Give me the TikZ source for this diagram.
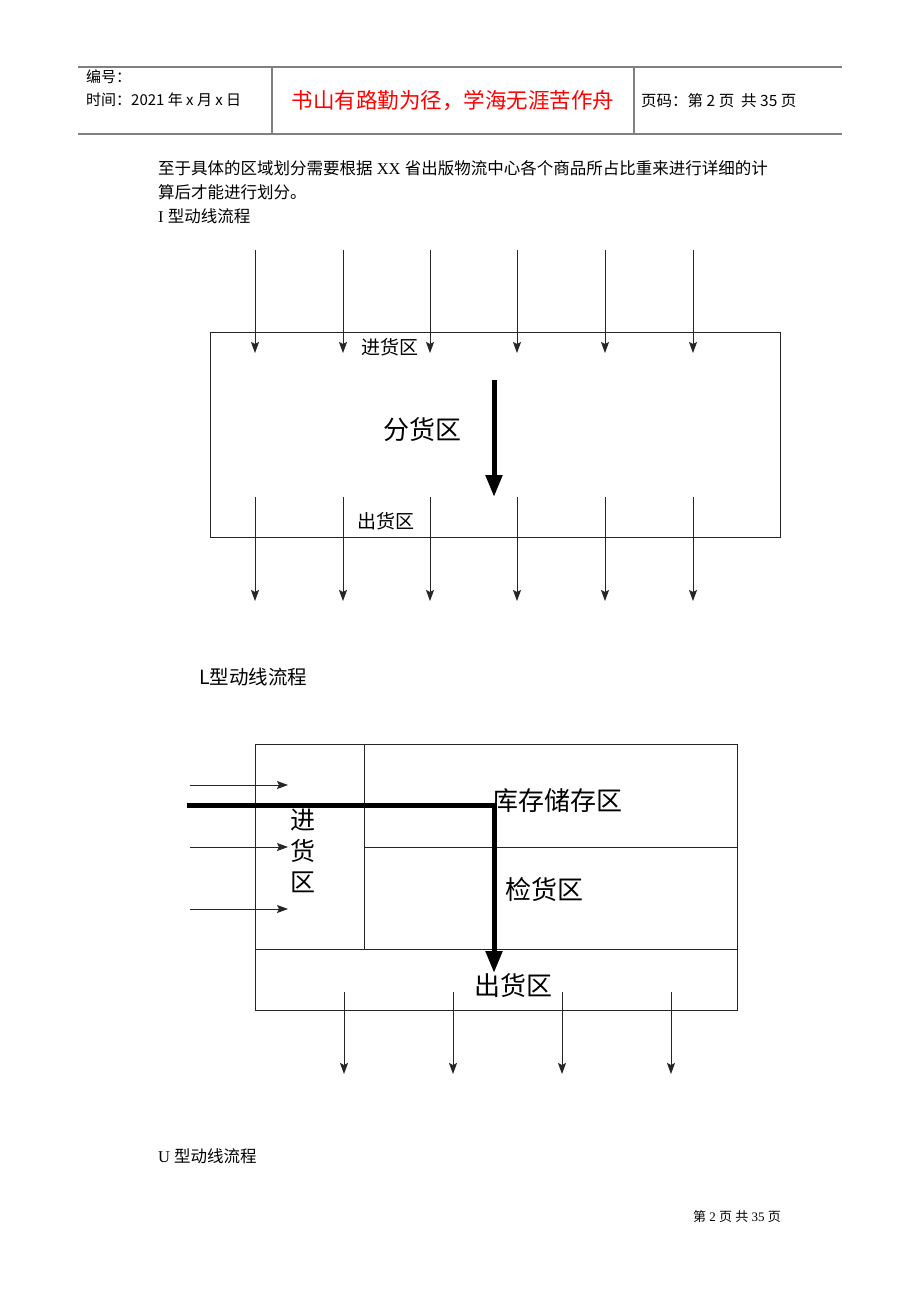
\documentclass[tikz,border=0pt]{standalone}
\usepackage{fontspec}
\setmainfont{Liberation Serif}
\newfontfamily\cjk{Noto Sans CJK SC}
\usetikzlibrary{arrows.meta}

\tikzset{
  hdrline/.style={draw=gray, line width=1.2pt},
  boxline/.style={draw=black!85, line width=0.9pt},
  thinflow/.style={draw=black!85, line width=0.8pt, -{Stealth[length=11pt,width=8pt,inset=2pt]}},
  mainflow/.style={draw=black, line width=5pt, -{Triangle[length=22pt,width=16pt]}},
  txt/.style={inner sep=0pt, anchor=west},
}

\begin{document}
\begin{tikzpicture}[x=1pt, y=-1pt]
		\useasboundingbox (0,0) rectangle (920,1302);
        % header table
        \draw[hdrline] (78,67) -- (842,67);
        \draw[hdrline] (78,134) -- (842,134);
        \draw[hdrline] (272,67) -- (272,134);
        \draw[hdrline] (634,67) -- (634,134);
        \node[txt, font=\cjk\fontsize{15}{18}\selectfont] (num) at (86,77) {编号：};
        \node[txt, font=\cjk\fontsize{15}{18}\selectfont] (date) at (86,100) {时间：2021 年 x 月 x 日};
        \node[inner sep=0pt, text=red, font=\cjk\fontsize{21.5}{24}\selectfont] (motto) at (453,101) {书山有路勤为径，学海无涯苦作舟};
        \node[txt, font=\cjk\fontsize{15.5}{18}\selectfont] (pageno) at (641,101) {页码：第 2 页 \ 共 35 页};
        % body text
        \node[txt, font=\fontsize{16.5}{20}\selectfont] (para1) at (158,168)
            {{\cjk 至于具体的区域划分需要根据} XX {\cjk 省出版物流中心各个商品所占比重来进行详细的计}};
        \node[txt, font=\fontsize{16.5}{20}\selectfont] (para2) at (158,192) {{\cjk 算后才能进行划分。}};
        \node[txt, font=\fontsize{16.5}{20}\selectfont] (ititle) at (158,216) {I {\cjk 型动线流程}};

        % I type
        \node[boxline, minimum width=570pt, minimum height=205pt, inner sep=0pt] (ibox) at (495,434.5) {};
        \foreach \x [count=\i] in {255,343,430,517,605,693} {
            \coordinate (iin\i) at (\x,250);
            \coordinate (iinend\i) at (\x,353);
            \coordinate (iout\i) at (\x,497);
            \coordinate (ioutend\i) at (\x,601);
            \draw[thinflow] (iin\i) -- (iinend\i);
            \draw[thinflow] (iout\i) -- (ioutend\i);
        }
        \node[inner sep=1pt, font=\cjk\fontsize{19}{22}\selectfont] (recv) at (390,347) {进货区};
        \node[inner sep=1pt, font=\cjk\fontsize{26}{30}\selectfont] (sort) at (422,430) {分货区};
        \node[inner sep=1pt, font=\cjk\fontsize{19}{22}\selectfont] (ship) at (386,521) {出货区};
        \coordinate (itop) at (494,380);
        \coordinate (ibottom) at (494,497);
        \draw[mainflow] (itop) -- (ibottom);

        % L type
        \node[txt, font=\cjk\fontsize{19.5}{22}\selectfont] (ltitle) at (199,677) {L型动线流程};
        \node[boxline, minimum width=482pt, minimum height=266pt, inner sep=0pt] (lbox) at (496,877) {};
        \draw[boxline] (364,744) -- (364,949);
        \draw[boxline] (364,847) -- (737,847);
        \draw[boxline] (255,949) -- (737,949);
        \node[inner sep=1pt, font=\cjk\fontsize{26}{30}\selectfont] (store) at (557,801) {库存储存区};
        \node[inner sep=1pt, font=\cjk\fontsize{26}{30}\selectfont] (check) at (544,890) {检货区};
        \node[inner sep=1pt, font=\cjk\fontsize{26}{30}\selectfont] (lship) at (513,986) {出货区};
        \node[inner sep=0pt, align=center, font=\cjk\fontsize{25}{31}\selectfont] (lrecv) at (303,851) {进\\货\\区};
        \foreach \y [count=\i] in {785,847,909} {
            \coordinate (lin\i) at (190,\y);
            \coordinate (linend\i) at (288,\y);
            \draw[thinflow] (lin\i) -- (linend\i);
        }
        \foreach \x [count=\i] in {344,453,562,671} {
            \coordinate (lout\i) at (\x,992);
            \coordinate (loutend\i) at (\x,1074);
            \draw[thinflow] (lout\i) -- (loutend\i);
        }
        \coordinate (lstart) at (187,805);
        \coordinate (lbend) at (494,805);
        \coordinate (lend) at (494,973);
        \draw[mainflow] (lstart) -- (lbend) -- (lend);

        % U type
        \node[txt, font=\fontsize{16.5}{20}\selectfont] (utitle) at (158,1156) {U {\cjk 型动线流程}};
        \node[inner sep=0pt, anchor=east, font=\fontsize{13}{16}\selectfont] (footer) at (781,1217)
            {{\cjk 第} 2 {\cjk 页} {\cjk 共} 35 {\cjk 页}};
	\end{tikzpicture}
\end{document}
